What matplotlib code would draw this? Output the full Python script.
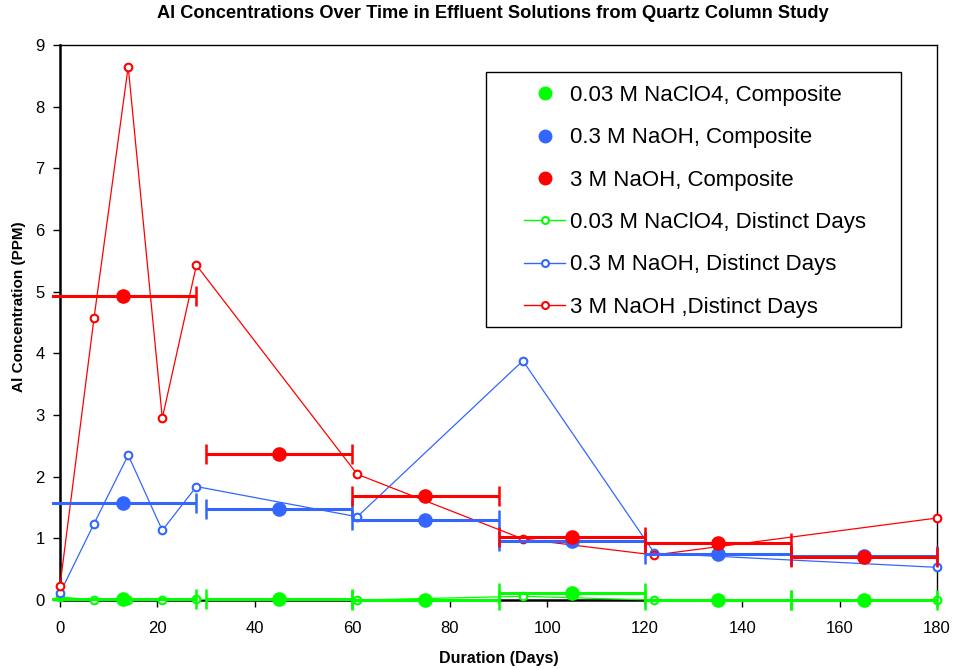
import matplotlib
matplotlib.use("Agg")
import matplotlib.pyplot as plt
from matplotlib.lines import Line2D
from matplotlib.patches import Rectangle
from matplotlib.transforms import Bbox, TransformedBbox

plt.rcParams['font.family'] = ['Liberation Sans', 'DejaVu Sans']

# Composite samples (midpoint of 30-day window, half-width)
comp_days = [13, 45, 75, 105, 135, 165]
comp_halfwidth = [15, 15, 15, 15, 15, 15]
comp_naclo4 = [0.01, 0.01, 0.005, 0.12, 0.0, 0.0]
comp_naoh03 = [1.58, 1.47, 1.29, 0.95, 0.75, 0.71]
comp_naoh3 = [4.93, 2.36, 1.69, 1.02, 0.93, 0.70]

# Distinct day samples
dist_days = [0, 7, 14, 21, 28, 61, 95, 122, 180]
dist_naclo4 = [0.05, 0.0, 0.0, 0.0, 0.01, 0.0, 0.06, 0.0, 0.0]
dist_naoh03 = [0.11, 1.24, 2.35, 1.13, 1.84, 1.35, 3.88, 0.76, 0.53]
dist_naoh3 = [0.23, 4.58, 8.65, 2.95, 5.43, 2.04, 0.99, 0.73, 1.33]

GREEN = '#00FF00'
BLUE = '#3366FF'
RED = '#FF0000'

fig = plt.figure(figsize=(9.55, 6.69), dpi=100)
ax = fig.add_axes([0.0628, 0.1031, 0.9184, 0.8296])
ax.set_xlim(0, 180)
ax.set_ylim(0, 9)

# distinct day lines
for y, c in [(dist_naclo4, GREEN), (dist_naoh03, BLUE), (dist_naoh3, RED)]:
    ax.plot(dist_days, y, color=c, lw=0.9, marker='o', ms=5.5,
            mfc='white', mec=c, mew=1.5, zorder=3, clip_on=False)

# composite with x error bars; clipped slightly left of the plot area
clip = TransformedBbox(Bbox([[-1.6, -1.0], [181.0, 10.0]]), ax.transData)
for y, c in [(comp_naclo4, GREEN), (comp_naoh03, BLUE), (comp_naoh3, RED)]:
    eb = ax.errorbar(comp_days, y, xerr=comp_halfwidth, fmt='o', color=c,
                     ms=9.5, elinewidth=2.2, capsize=7, capthick=1.8,
                     zorder=4)
    for part in list(eb.lines[1]) + list(eb.lines[2]) + [eb.lines[0]]:
        part.set_clip_box(clip)
        part.set_clip_on(True)

ax.set_xticks(range(0, 181, 20))
ax.set_yticks(range(0, 10))
ax.tick_params(axis='both', labelsize=12, direction='out', length=5, width=1)
ax.tick_params(axis='x', pad=10)
ax.tick_params(axis='y', pad=6)
for s in ['left', 'bottom']:
    ax.spines[s].set_linewidth(1.8)
for s in ['top', 'right']:
    ax.spines[s].set_linewidth(1.0)

fig.text(493 / 955, 1 - 14 / 669,
         'Al Concentrations Over Time in Effluent Solutions from Quartz Column Study',
         fontsize=13.15, fontweight='bold', ha='center', va='center')
fig.text(499 / 955, 1 - 658 / 669, 'Duration (Days)', fontsize=11.5,
         fontweight='bold', ha='center', va='center')
fig.text(18.5 / 955, 1 - 307 / 669, 'Al Concentration (PPM)', fontsize=11,
         fontweight='bold', ha='center', va='center', rotation=90)

handles = [
    Line2D([], [], ls='none', marker='o', ms=9, color=GREEN),
    Line2D([], [], ls='none', marker='o', ms=9, color=BLUE),
    Line2D([], [], ls='none', marker='o', ms=9, color=RED),
    Line2D([], [], color=GREEN, lw=1, marker='o', ms=5, mfc='white', mec=GREEN, mew=1.5),
    Line2D([], [], color=BLUE, lw=1, marker='o', ms=5, mfc='white', mec=BLUE, mew=1.5),
    Line2D([], [], color=RED, lw=1, marker='o', ms=5, mfc='white', mec=RED, mew=1.5),
]
labels = ['0.03 M NaClO4, Composite', '0.3 M NaOH, Composite', '3 M NaOH, Composite',
          '0.03 M NaClO4, Distinct Days', '0.3 M NaOH, Distinct Days', '3 M NaOH ,Distinct Days']

# legend frame drawn as a separate rectangle
ax.add_patch(Rectangle((0.4857, 0.4919), 0.959 - 0.4857, 0.9514 - 0.4919,
                       transform=ax.transAxes, facecolor='white', edgecolor='black',
                       lw=1.0, zorder=5, clip_on=False))
leg = ax.legend(handles, labels, loc='upper left', bbox_to_anchor=(0.529, 0.928),
                fontsize=16, frameon=False, labelspacing=0.96, handlelength=1.85,
                handletextpad=0.23, borderpad=0, borderaxespad=0)
leg.set_zorder(6)

fig.savefig('out.png', dpi=100)
